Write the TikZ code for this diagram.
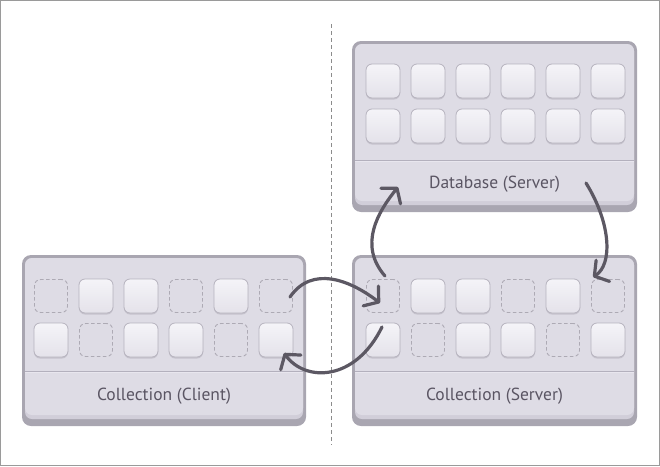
\documentclass[tikz,border=0pt]{standalone}
\usepackage{fontspec}
\setmainfont{PT Sans}
\usetikzlibrary{arrows.meta,calc}
\definecolor{framegray}{HTML}{9A9A9A}
\definecolor{boxedge}{HTML}{A9A6B1}
\definecolor{boxfill}{HTML}{DEDCE5}
\definecolor{boxshade}{HTML}{D1CED9}
\definecolor{sepcol}{HTML}{B3B0BD}
\definecolor{seplight}{HTML}{E8E6EE}
\definecolor{sqtop}{HTML}{F5F4F8}
\definecolor{sqbot}{HTML}{E4E2EA}
\definecolor{sqedge}{HTML}{B6B3BE}
\definecolor{sqshadow}{HTML}{C6C3CD}
\definecolor{dashcol}{HTML}{ADAAB4}
\definecolor{txtcol}{HTML}{5A5563}
\definecolor{arrcol}{HTML}{5C5863}
\definecolor{midline}{HTML}{8C8C8C}
\newcommand\panel[5]{%
  \fill[boxedge, rounded corners=9] (#1,#2) rectangle (#3,#4);
  \fill[boxshade, rounded corners=7] (#1+3,#2+3) rectangle (#3-3,#4-7);
  \fill[boxfill, rounded corners=7] (#1+3,#2+3) rectangle (#3-3,#4-11);
  \draw[sepcol, line width=1] (#1+3,#5) -- (#3-3,#5);
  \draw[seplight, line width=0.8] (#1+3,#5+1) -- (#3-3,#5+1);
}
\tikzset{
  sq/.style={rounded corners=6, minimum width=34, minimum height=34, inner sep=0,
    draw=sqedge, line width=0.8, top color=sqtop, bottom color=sqbot},
  sqsh/.style={fill=sqshadow, rounded corners=6, minimum width=34, minimum height=34, inner sep=0},
  dsq/.style={rounded corners=6, minimum width=33, minimum height=33, inner sep=0,
    draw=dashcol, line width=0.9, dash pattern=on 3.5pt off 2.5pt},
  lbl/.style={text=txtcol, font=\fontsize{17.5}{20}\selectfont, inner sep=0},
  arr/.style={draw=arrcol, line width=3.2, line cap=round,
    -{Straight Barb[length=10pt, width=25pt, round]}},
}
\newcommand\solidsq[3]{%
  \node[sqsh] at ($(#2)+(0,1.5)$) {};
  \node[sq] (#1) at (#2) {};
}
\begin{document}
\begin{tikzpicture}[x=1pt, y=-1pt]
\useasboundingbox (0,0) rectangle (660,466);
\draw[framegray, line width=1] (0.5,0.5) rectangle (659.5,465.5);
\draw[midline, line width=0.9, dash pattern=on 4pt off 3pt] (331,24) -- (331,445);

% panels
\panel{22}{255}{306}{426}{371}
\panel{352}{255}{637}{426}{371}
\panel{352}{41}{637}{212}{160}

\node[lbl] (clientlbl) at (164,396.5) {Collection (Client)};
\node[lbl] (serverlbl) at (494.5,396.5) {Collection (Server)};
\node[lbl] (dblbl) at (494.5,184.5) {Database (Server)};

% database squares
\foreach \i in {0,...,5} {
  \solidsq{d1\i}{383+45*\i,81}{}
  \solidsq{d2\i}{383+45*\i,126}{}
}
% client squares
\node[dsq] (c10) at (51,296) {};
\solidsq{c11}{96,296}{}
\solidsq{c12}{141,296}{}
\node[dsq] (c13) at (186,296) {};
\solidsq{c14}{231,296}{}
\node[dsq] (c15) at (276,296) {};
\solidsq{c20}{51,340}{}
\node[dsq] (c21) at (96,340) {};
\solidsq{c22}{141,340}{}
\solidsq{c23}{186,340}{}
\node[dsq] (c24) at (231,340) {};
\solidsq{c25}{276,340}{}
% server squares
\node[dsq] (s10) at (383,296) {};
\solidsq{s11}{428,296}{}
\solidsq{s12}{473,296}{}
\node[dsq] (s13) at (518,296) {};
\solidsq{s14}{563,296}{}
\node[dsq] (s15) at (608,296) {};
\solidsq{s20}{383,340}{}
\node[dsq] (s21) at (428,340) {};
\solidsq{s22}{473,340}{}
\solidsq{s23}{518,340}{}
\node[dsq] (s24) at (563,340) {};
\solidsq{s25}{608,340}{}

% arrow end points
\coordinate (a1s) at (290,297);
\coordinate (a1e) at (380,303);
\coordinate (a2s) at (382,327);
\coordinate (a2e) at (284,353);
\coordinate (a3s) at (385,276);
\coordinate (a3e) at (398,187);
\coordinate (a4s) at (586,183);
\coordinate (a4e) at (593,277);

\draw[arr] (a1s) .. controls (312,265) and (350,280) .. (a1e);
\draw[arr] (a2s) .. controls (355,382) and (305,382) .. (a2e);
\draw[arr] (a3s) .. controls (358,245) and (378,212) .. (a3e);
\draw[arr] (a4s) .. controls (612,225) and (612,265) .. (a4e);
\end{tikzpicture}
\end{document}
